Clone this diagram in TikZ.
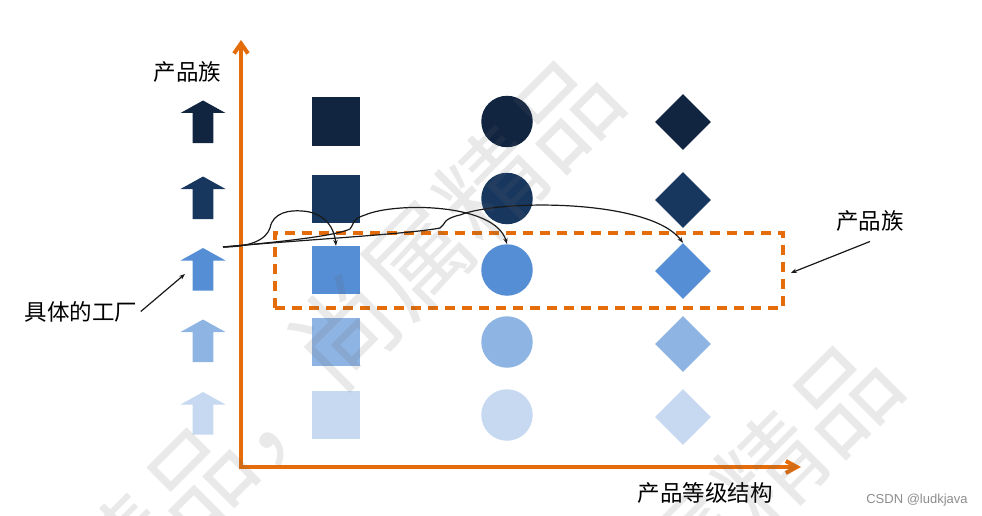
\documentclass[tikz,border=0pt]{standalone}
\usepackage{fontspec}
\setmainfont{Noto Sans CJK SC}
\newfontfamily\latinsans{Liberation Sans}
\usetikzlibrary{arrows.meta,shapes.geometric,calc}
\definecolor{cA}{RGB}{17,36,64}
\definecolor{cB}{HTML}{17375E}
\definecolor{cC}{HTML}{558ED5}
\definecolor{cD}{HTML}{8EB4E3}
\definecolor{cE}{HTML}{C6D9F1}
\definecolor{axo}{RGB}{228,108,10}
\begin{document}
\begin{tikzpicture}[x=1pt,y=-1pt,
  sqbox/.style={rectangle,minimum size=48,inner sep=0},
  cibox/.style={circle,minimum size=51.5,inner sep=0},
  dibox/.style={diamond,minimum width=56,minimum height=56,inner sep=0},
  blk/.style={rectangle,minimum width=45,minimum height=42.5,inner sep=0},
  axisline/.style={draw=axo,line width=4,line join=miter},
  fambox/.style={draw=axo,line width=3.5,dash pattern=on 10pt off 7pt,minimum width=508,minimum height=75,inner sep=0},
  lab/.style={font=\fontsize{22.5}{26}\selectfont,text=black},
  csdn/.style={font=\latinsans\fontsize{13}{15}\selectfont,text=black!45},
  conn/.style={draw=black!90,line width=1.2,-{Stealth[length=6pt,width=4.5pt]}},
  wm/.style={font=\fontsize{104}{104}\selectfont,text=black!60,text opacity=0.14,inner sep=0}
]
\useasboundingbox (0,0) rectangle (982,516);

% axes
\coordinate (O) at (241,467);
\coordinate (Yt) at (241,40);
\coordinate (Xr) at (801,467);
\draw[axisline,{Straight Barb[length=10pt,width=14pt]}-{Straight Barb[length=11pt,width=12pt]}] (Yt) -- (O) -- (Xr);

% rows of shapes and block arrows
\foreach \i/\ys/\ya/\yd/\c in {1/121.5/121.5/122/cA,2/198.5/197.5/200/cB,3/270/269/271/cC,4/342/340.5/344/cD,5/415/413/417/cE}{
  \node[sqbox,fill=\c] (sq\i) at (336,\ys) {};
  \node[cibox,fill=\c] (ci\i) at (507,\ys) {};
  \node[dibox,fill=\c] (di\i) at (683,\yd) {};
  \fill[\c] (203,\ya-21) -- (225.5,\ya-8.5) -- (213.3,\ya-8.5) -- (213.3,\ya+21.5) -- (192.7,\ya+21.5) -- (192.7,\ya-8.5) -- (180.5,\ya-8.5) -- cycle;
  \node[blk] (f\i) at (203,\ya) {};
}

% product family box
\node[fambox] (fam) at (529,270.5) {};

% labels
\node[lab] (t1) at (187.5,72) {产品族};
\node[lab] (t2) at (870,221) {产品族};
\node[lab] (t3) at (81,311.5) {具体的工厂};
\node[lab] (t4) at (705,493) {产品等级结构};
\node[csdn] (t5) at (917,500) {CSDN @ludkjava};

% connectors
\draw[conn] (t3.east) -- ($(f3.center)+(-18,5)$);
\draw[conn] ([yshift=-6.5pt]t2.south) -- ($(fam.east)+(6,2.5)$);

\coordinate (S) at (223,247);
\draw[conn] (S) .. controls (250,247) and (266,240) .. (270,228) .. controls (273,212) and (290,210) .. (302,211) .. controls (322,212) and (334,225) .. (sq3.north);
\draw[conn] (S) .. controls (280,242) and (335,236) .. (350,229) .. controls (355,222) and (352,219) .. (365,215) .. controls (395,202) and (495,203) .. (ci3.north);
\draw[conn] (S) .. controls (300,240) and (410,234) .. (440,228) .. controls (446,224) and (442,219) .. (460,215) .. controls (500,199) and (650,199) .. (di3.north);

% watermark
\node[wm,rotate=45] (w1) at (345,333) {精品，尚属精品};
\node[wm,rotate=45] (w2) at (770,470) {属精品};
\end{tikzpicture}
\end{document}
